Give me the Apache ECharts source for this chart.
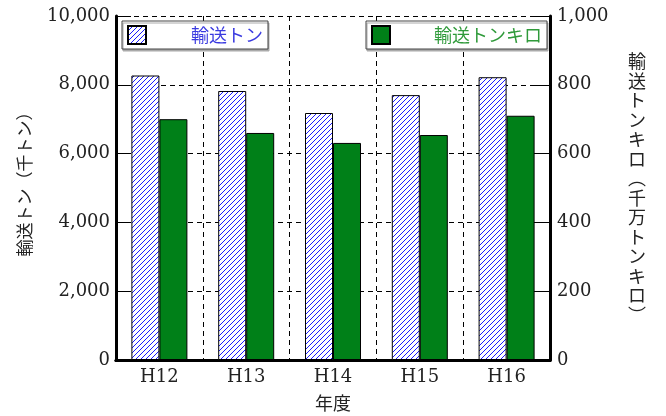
<!DOCTYPE html>
<html>
<head>
<meta charset="utf-8">
<script src="https://cdn.jsdelivr.net/npm/echarts@6/dist/echarts.min.js"></script>
<style>
html, body { margin: 0; padding: 0; background: #fff; }
#main { width: 666px; height: 416px; }
</style>
</head>
<body>
<div id="main"></div>
<script>
var years = ['H12', 'H13', 'H14', 'H15', 'H16'];
var tonValues = [8270, 7820, 7180, 7700, 8220];      // 輸送トン (千トン)
var tonKmValues = [700, 660, 631, 654, 710];         // 輸送トンキロ (千万トンキロ)
var leftTicks = { min: 0, max: 10000, interval: 2000 };
var rightTicks = { min: 0, max: 1000, interval: 200 };

// blue diagonal hatch
var hatch = document.createElement('canvas');
hatch.width = 5;
hatch.height = 5;
var hc = hatch.getContext('2d');
hc.fillStyle = '#fff';
hc.fillRect(0, 0, 5, 5);
hc.strokeStyle = '#1a1aff';
hc.lineWidth = 1;
hc.beginPath();
hc.moveTo(-1, 6); hc.lineTo(6, -1);
hc.moveTo(-1, 1); hc.lineTo(1, -1);
hc.moveTo(4, 6); hc.lineTo(6, 4);
hc.stroke();

var serif = 'DejaVu Serif';
var jp = 'Noto Sans CJK JP';

var myChart = echarts.init(document.getElementById('main'));
var option = {
    animation: false,
    grid: { left: 116, right: 116, top: 16, bottom: 56, outerBoundsMode: 'none', containLabel: false },
    legend: [
        {
            data: ['輸送トン'],
            left: 122, top: 21,
            padding: [4, 5, 4, 5],
            itemWidth: 18, itemHeight: 18,
            icon: 'rect',
            borderColor: '#444', borderWidth: 1,
            shadowColor: '#aaa', shadowOffsetY: 2, shadowOffsetX: 1,
            backgroundColor: '#fff',
            formatter: '{a|{name}}',
            textStyle: { rich: { a: { padding: [0, 0, 0, 40], color: '#3a3ae0', fontSize: 18, fontFamily: jp } } }
        },
        {
            data: ['輸送トンキロ'],
            left: 366, top: 21,
            padding: [4, 5, 4, 5],
            itemWidth: 18, itemHeight: 18,
            icon: 'rect',
            borderColor: '#444', borderWidth: 1,
            shadowColor: '#aaa', shadowOffsetY: 2, shadowOffsetX: 1,
            backgroundColor: '#fff',
            formatter: '{a|{name}}',
            textStyle: { rich: { a: { padding: [0, 0, 0, 39], color: '#2f9a3a', fontSize: 18, fontFamily: jp } } }
        }
    ],
    xAxis: [
        {
            type: 'category',
            data: years,
            name: '年度',
            nameLocation: 'middle',
            nameGap: 34,
            nameTextStyle: { fontFamily: jp, fontSize: 18, color: '#222' },
            axisLine: { lineStyle: { color: '#000', width: 3 } },
            axisTick: { inside: true, length: 12, lineStyle: { color: '#000', width: 2 } },
            axisLabel: { fontFamily: serif, fontSize: 18, color: '#222', margin: 8 },
            splitLine: { show: true, lineStyle: { color: '#000', width: 1, type: [5, 4] } }
        },
        {
            type: 'category',
            data: years,
            position: 'top',
            axisLine: { lineStyle: { color: '#000', width: 3 } },
            axisTick: { inside: true, length: 10, lineStyle: { color: '#000', width: 1 } },
            axisLabel: { show: false },
            splitLine: { show: false }
        }
    ],
    yAxis: [
        {
            type: 'value',
            min: leftTicks.min, max: leftTicks.max, interval: leftTicks.interval,
            name: '輸送トン（千トン）',
            nameLocation: 'middle',
            nameGap: 83,
            nameTextStyle: { fontFamily: jp, fontSize: 17, color: '#222', padding: [0, 0, 0, 16] },
            axisLine: { show: true, lineStyle: { color: '#000', width: 3 } },
            axisTick: { show: true, inside: true, length: 15, lineStyle: { color: '#000', width: 1 } },
            axisLabel: {
                fontFamily: serif, fontSize: 18, color: '#222', margin: 6,
                formatter: function (v) { return v.toLocaleString('en-US'); }
            },
            splitLine: { show: true, lineStyle: { color: '#000', width: 1, type: [5, 4] } }
        },
        {
            type: 'value',
            min: rightTicks.min, max: rightTicks.max, interval: rightTicks.interval,
            position: 'right',
            name: ['輸', '送', 'ト', 'ン', 'キ', 'ロ', '︵', '千', '万', 'ト', 'ン', 'キ', 'ロ', '︶'].join('\n'),
            nameLocation: 'middle',
            nameRotate: 0,
            nameGap: 87,
            nameTextStyle: { fontFamily: jp, fontSize: 18, lineHeight: 19.5, color: '#222', align: 'center', verticalAlign: 'middle' },
            axisLine: { show: true, lineStyle: { color: '#000', width: 3 } },
            axisTick: { show: true, inside: true, length: 15, lineStyle: { color: '#000', width: 1 } },
            axisLabel: {
                fontFamily: serif, fontSize: 18, color: '#222', margin: 7,
                formatter: function (v) { return v.toLocaleString('en-US'); }
            },
            splitLine: { show: false }
        }
    ],
    series: [
        {
            name: '輸送トン',
            type: 'bar',
            yAxisIndex: 0,
            data: tonValues,
            barWidth: 28,
            barGap: '0%',
            itemStyle: { color: { image: hatch, repeat: 'repeat' }, borderColor: '#000', borderWidth: 1 }
        },
        {
            name: '輸送トンキロ',
            type: 'bar',
            yAxisIndex: 1,
            data: tonKmValues,
            barWidth: 28,
            barGap: '0%',
            itemStyle: { color: '#008018', borderColor: '#000', borderWidth: 1 }
        }
    ]
};
myChart.setOption(option);
</script>
</body>
</html>
